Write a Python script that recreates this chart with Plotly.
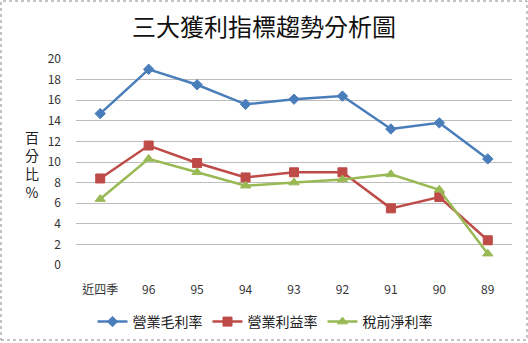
import plotly.graph_objects as go

categories = ["近四季", "96", "95", "94", "93", "92", "91", "90", "89"]
gross_margin = [14.7, 19.0, 17.5, 15.6, 16.1, 16.4, 13.2, 13.8, 10.3]
operating_margin = [8.4, 11.6, 9.9, 8.5, 9.0, 9.0, 5.5, 6.6, 2.4]
pretax_margin = [6.4, 10.3, 9.0, 7.7, 8.0, 8.3, 8.8, 7.3, 1.1]
series_names = ["營業毛利率", "營業利益率", "稅前淨利率"]
y_ticks = [0, 2, 4, 6, 8, 10, 12, 14, 16, 18, 20]

W, H = 528, 343
L, R, T, B = 76, 16, 59, 78
pw, ph = W - L - R, H - T - B

font_cjk = "Noto Sans CJK TC, Noto Sans CJK SC, sans-serif"

fig = go.Figure()
styles = [
    ("#4a7ebb", "diamond", 8),
    ("#be4b48", "square", 9),
    ("#98b954", "triangle-up", 9),
]
for name, vals, (c, sym, sz) in zip(series_names, [gross_margin, operating_margin, pretax_margin], styles):
    fig.add_trace(go.Scatter(
        x=categories, y=vals, name=name, mode="lines+markers",
        line=dict(color=c, width=2.5),
        marker=dict(symbol=sym, size=sz, color=c, line=dict(color=c, width=1)),
        cliponaxis=False,
    ))

fig.update_layout(
    width=W, height=H,
    margin=dict(l=L, r=R, t=T, b=B, autoexpand=False),
    paper_bgcolor="white", plot_bgcolor="white",
    font=dict(family=font_cjk, size=12, color="#222"),
    title=dict(text="三大獲利指標趨勢分析圖", x=(264 - L) / pw, xref="paper", xanchor="center",
               y=1 - 28 / H, yanchor="middle",
               font=dict(size=24, family=font_cjk, color="#111")),
    showlegend=True,
    legend=dict(orientation="h", x=(265 - L) / pw, xanchor="center", y=-(322 - T - ph) / ph, yanchor="middle",
                font=dict(size=14, family=font_cjk, color="#222"), itemwidth=30, tracegroupgap=0),
    xaxis=dict(type="category", showgrid=False, showline=False, ticks="", zeroline=False,
               tickfont=dict(size=12, color="#333", family=font_cjk), range=[-0.5, 8.5],
               ticklabelstandoff=16, automargin=False),
    yaxis=dict(range=[0, 20], tickvals=y_ticks, showgrid=True, gridcolor="#bdbdbd", gridwidth=1,
               zeroline=False, showline=False, ticks="", tickfont=dict(size=12, color="#333"),
               ticklabelstandoff=14, automargin=False),
)

fig.add_annotation(text="百<br>分<br>比<br>%", xref="paper", yref="paper",
                   x=-(L - 32) / pw, y=(H - B - 164) / ph, showarrow=False,
                   font=dict(size=14, family=font_cjk, color="#222"), xanchor="center", yanchor="middle")

fig.add_shape(type="rect", xref="paper", yref="paper",
              x0=-(L - 1) / pw, x1=(pw + R - 1) / pw,
              y0=-(B - 3) / ph, y1=(ph + T - 1) / ph,
              line=dict(color="#888", width=1, dash="dot"))

fig.write_html("out.html")
